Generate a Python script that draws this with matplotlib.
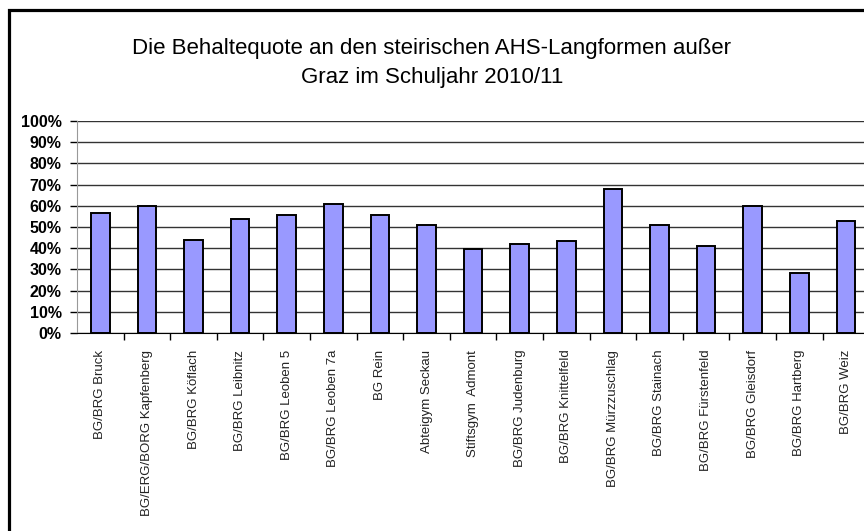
import matplotlib

matplotlib.use("Agg")

import matplotlib.pyplot as plt
import numpy as np
from matplotlib.lines import Line2D
from matplotlib.ticker import PercentFormatter

# Behaltequote je Schule (Anteil in %)
schools = [
    "BG/BRG Bruck",
    "BG/ERG/BORG Kapfenberg",
    "BG/BRG Köflach",
    "BG/BRG Leibnitz",
    "BG/BRG Leoben 5",
    "BG/BRG Leoben 7a",
    "BG Rein",
    "Abteigym Seckau",
    "Stiftsgym  Admont",
    "BG/BRG Judenburg",
    "BG/BRG Knittelfeld",
    "BG/BRG Mürzzuschlag",
    "BG/BRG Stainach",
    "BG/BRG Fürstenfeld",
    "BG/BRG Gleisdorf",
    "BG/BRG Hartberg",
    "BG/BRG Weiz",
]
quota = [56.5, 60, 44, 54, 55.5, 61, 55.5, 51, 39.5, 42, 43.5, 68, 51, 41, 60, 28.5, 53]
y_ticks = list(range(0, 101, 10))

title_lines = ["Die Behaltequote an den steirischen AHS-Langformen außer",
               "Graz im Schuljahr 2010/11"]

W, H = 864, 531
fig = plt.figure(figsize=(W / 100, H / 100), dpi=100)
fig.patch.set_facecolor("white")

# plot area: 0% at y=333px, 100% at y=121px, 46.6px per category
n = len(schools)
ax = fig.add_axes([77 / W, (H - 333) / H, n * 46.6 / W, 212 / H])
x = np.arange(n)
ax.bar(x, quota, width=0.4, color="#9999ff", edgecolor="black", linewidth=1.4, zorder=3)

ax.set_xlim(-0.5, n - 0.5)
ax.set_ylim(0, 100)
ax.set_yticks(y_ticks)
ax.yaxis.set_major_formatter(PercentFormatter(decimals=0))
ax.tick_params(axis="y", length=5, width=1, pad=6, labelsize=11.5, colors="black")
ax.grid(axis="y", color="#333333", linewidth=1, zorder=0)

# category labels centred, ticks between categories
ax.set_xticks(x)
ax.set_xticklabels(schools, rotation=90, va="top", ha="center", fontsize=9.5, color="#222222")
ax.tick_params(axis="x", which="major", length=0, pad=12)
ax.set_xticks(np.arange(n) + 0.5, minor=True)
ax.tick_params(axis="x", which="minor", length=5, width=1, color="black")

for side in ("top", "right"):
    ax.spines[side].set_visible(False)
ax.spines["left"].set_color("#999999")
ax.spines["bottom"].set_color("black")

for t in ax.get_yticklabels():
    t.set_family("Liberation Sans")
    t.set_fontweight("bold")
for t in ax.get_xticklabels():
    t.set_family("Liberation Sans")

for line, ypx in zip(title_lines, (48, 78)):
    fig.text(0.5, 1 - ypx / H, line, ha="center", va="center", fontsize=16,
             family="Liberation Sans")

# outer chart frame (left and top edge visible)
fx = 8.5 / W
fy = 1 - 10 / H
fig.add_artist(Line2D([fx, fx, 1.0], [0.0, fy, fy], transform=fig.transFigure,
                      color="black", linewidth=2.3, solid_joinstyle="miter"))

fig.savefig("out.png", dpi=100)
